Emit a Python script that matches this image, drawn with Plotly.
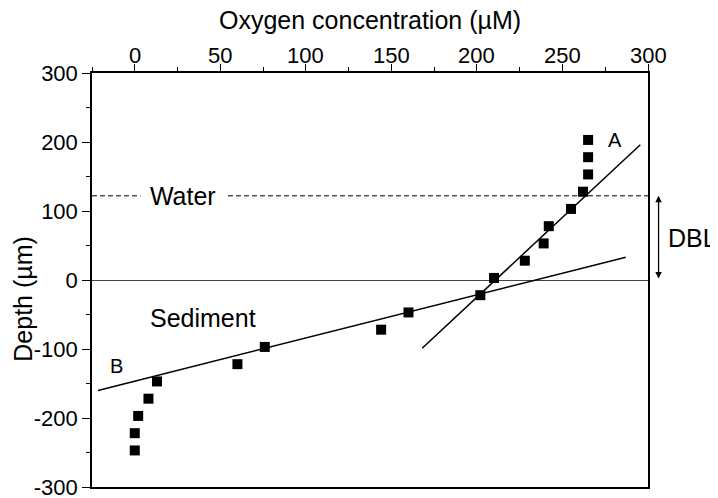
import plotly.graph_objects as go

# Measured profile
oxygen = [265, 265, 265, 262, 255, 242, 239, 228, 210, 202, 160, 144, 76, 60, 13, 8, 2, 0, 0]
depth = [203, 178, 153, 128, 103, 78, 53, 28, 3, -22, -47, -72, -97, -122, -147, -172, -197, -222, -247]

# Fitted gradient lines
line_a_x = [168, 295.5]
line_a_y = [-99, 196]
line_b_x = [-21.5, 287]
line_b_y = [-160, 33]

# Diffusive boundary layer top
dbl_top = 122
x_ticks = [0, 50, 100, 150, 200, 250, 300]
x_ticktext = ["0", "50", "100", "150", "200", "250", "300"]
y_ticks = [300, 200, 100, 0, -100, -200, -300]
y_ticktext = ["300", "200", "100", "0", "-100", "-200", "-300"]

FONT = "Liberation Sans, Arial, Helvetica, sans-serif"

fig = go.Figure()
fig.add_trace(go.Scatter(x=[-25, 300], y=[dbl_top, dbl_top], mode="lines",
                         line=dict(color="black", width=1, dash="5px,3px"),
                         showlegend=False, hoverinfo="skip"))
fig.add_trace(go.Scatter(x=line_a_x, y=line_a_y, mode="lines",
                         line=dict(color="black", width=1.5), showlegend=False))
fig.add_trace(go.Scatter(x=line_b_x, y=line_b_y, mode="lines",
                         line=dict(color="black", width=1.5), showlegend=False))
fig.add_trace(go.Scatter(x=oxygen, y=depth, mode="markers",
                         marker=dict(symbol="square", size=10, color="black"),
                         showlegend=False))

annos = [
    dict(x=280.5, y=203, text="A", font=dict(size=20)),
    dict(x=-10.4, y=-124, text="B", font=dict(size=20)),
    dict(x=28.4, y=dbl_top, text=" Water ", font=dict(size=25), bgcolor="white", borderpad=2),
    dict(x=40, y=-55, text="Sediment", font=dict(size=25)),
]
for a in annos:
    fig.add_annotation(xref="x", yref="y", showarrow=False, **a)

# top-axis tick labels
for xv, tt in zip(x_ticks, x_ticktext):
    fig.add_annotation(xref="x", yref="paper", x=xv, y=1, yanchor="middle", yshift=18,
                       text=tt, showarrow=False, font=dict(size=22))
fig.add_annotation(xref="paper", yref="paper", x=0.5, y=1, yanchor="middle", yshift=53,
                   text="Oxygen concentration (µM)", showarrow=False, font=dict(size=25))

fig.add_annotation(xref="paper", yref="y", x=1.019, y=dbl_top, ax=0, ay=0,
                   axref="pixel", ayref="y", text="", showarrow=True,
                   arrowhead=2, arrowside="end+start", arrowwidth=1.3,
                   arrowsize=1, arrowcolor="black")
fig.add_annotation(xref="paper", yref="y", x=1.0, y=61, xanchor="left",
                   xshift=18, text="DBL", showarrow=False, font=dict(size=25))
fig.add_annotation(xref="paper", yref="paper", x=-0.124, y=0.455, textangle=-90,
                   xanchor="center", yanchor="middle",
                   text="Depth (µm)", showarrow=False, font=dict(size=25))

fig.update_layout(
    width=710, height=490,
    margin=dict(l=84, r=70, t=65, b=11, autoexpand=False),
    paper_bgcolor="white", plot_bgcolor="white",
    font=dict(family=FONT, color="black", size=22),
    xaxis=dict(side="top", range=[-25, 300], tickvals=x_ticks, automargin=False,
               showticklabels=False,
               ticks="outside", ticklen=7, tickwidth=1.3, tickcolor="black",
               showline=True, linecolor="black", linewidth=1.5, mirror=True,
               showgrid=False, zeroline=False,
               minor=dict(dtick=25, tick0=0, ticks="outside", ticklen=4,
                          tickcolor="black", tickwidth=1.3, showgrid=False)),
    yaxis=dict(range=[-300, 300], tickvals=y_ticks, ticktext=y_ticktext, automargin=False,
               ticklabeloverflow="allow",
               ticks="outside", ticklen=8, tickwidth=1.3, tickcolor="black",
               showline=True, linecolor="black", linewidth=1.5, mirror=True,
               showgrid=False, zeroline=True, zerolinecolor="#444", zerolinewidth=1,
               tickfont=dict(size=22),
               minor=dict(dtick=50, tick0=0, ticks="outside", ticklen=4,
                          tickcolor="black", tickwidth=1.3, showgrid=False)),
)

fig.write_html("out.html")
